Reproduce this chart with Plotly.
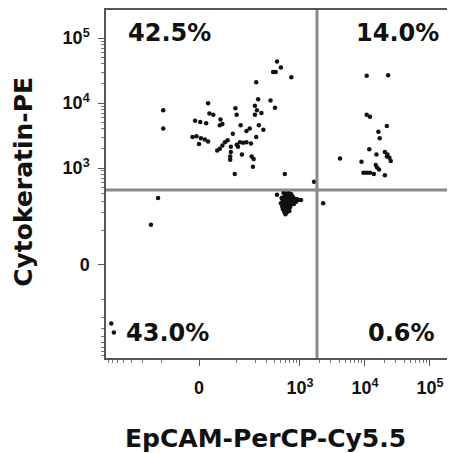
import numpy as np
import plotly.graph_objects as go

# ---- data (biexponential display units; 1 unit = 1 decade in the log region) ----
q1_x = [1.20, 1.26, 1.14, 1.18, 1.42, 0.88, -0.55, -0.55, 0.14, 0.91, 1.10, 1.17, 0.86, 0.89, 0.96,
        0.56, 0.58, 0.16, 0.22, 0.33, 0.32, 0.36, -0.06, 0.02, 0.11, -0.10, -0.04, 0.03, 0.09, 0.14,
        0.00, 0.64, 0.86, 0.92, 0.99, 0.73, 0.78, 0.52, 0.88, 0.63, 0.68, 0.73, 0.80, 0.58, 0.60,
        0.44, 0.40, 0.36, 0.32, 0.28, 0.49, 0.49, 0.48, 0.48, 0.66, 0.81, 0.84, 0.83, 0.55, 1.32, 1.77]
q1_y = [3.13, 3.04, 2.97, 2.97, 2.89, 2.81, 2.38, 2.10, 2.49, 2.55, 2.53, 2.42, 2.45, 2.38, 2.34,
        2.41, 2.31, 2.33, 2.31, 2.24, 2.15, 2.17, 2.22, 2.20, 2.18, 1.97, 1.98, 1.95, 1.93, 1.90,
        1.86, 2.15, 2.31, 2.15, 2.08, 2.06, 2.10, 2.02, 1.97, 1.89, 1.88, 1.89, 1.87, 1.85, 1.82,
        1.92, 1.89, 1.84, 1.79, 1.76, 1.82, 1.74, 1.67, 1.62, 1.70, 1.67, 1.63, 1.51, 1.40, 1.40, 1.28]

q2_x = [2.58, 2.91, 2.58, 2.63, 2.76, 2.89, 2.78, 2.62, 2.73, 2.86, 2.90, 2.93, 2.95, 2.89, 2.17,
        2.50, 2.72, 2.74, 2.77, 2.53, 2.58, 2.63, 2.69, 2.86]
q2_y = [2.91, 2.92, 2.31, 2.28, 2.05, 2.14, 1.95, 1.78, 1.70, 1.74, 1.70, 1.65, 1.60, 1.67, 1.64,
        1.59, 1.54, 1.50, 1.47, 1.42, 1.42, 1.42, 1.40, 1.38]

q3_x = [-0.63, -0.74, -1.35, -1.31,
        1.20, 1.30, 1.34, 1.38, 1.42, 1.32, 1.36, 1.40, 1.44,
        1.27, 1.31, 1.35, 1.39, 1.43, 1.47, 1.51, 1.29, 1.33, 1.37, 1.41, 1.45, 1.49,
        1.53, 1.57, 1.26, 1.30, 1.34, 1.38, 1.42, 1.46,
        1.28, 1.32, 1.36, 1.40, 1.29, 1.33, 1.37, 1.31, 1.35, 1.39, 1.33,
        1.30, 1.34, 1.38, 1.42, 1.32, 1.36, 1.40, 1.34, 1.38]
q3_y = [1.03, 0.62, -0.90, -1.04,
        1.08, 1.11, 1.10, 1.11, 1.09, 1.06, 1.07, 1.06, 1.05,
        1.03, 1.02, 1.03, 1.02, 1.01, 1.02, 1.01, 0.99, 0.98, 0.99, 0.97, 0.98, 0.97,
        1.00, 1.00, 0.95, 0.94, 0.95, 0.94, 0.93, 0.94,
        0.90, 0.89, 0.90, 0.89, 0.86, 0.85, 0.86, 0.82, 0.81, 0.83, 0.78,
        1.04, 1.05, 1.04, 1.03, 0.96, 0.97, 0.96, 0.92, 0.91]

q4_x = [1.91]
q4_y = [0.95]

gate_x = 1.815
gate_y = 1.154

quad_labels = ["42.5%", "14.0%", "43.0%", "0.6%"]

tick_values = [0, 1e3, 1e4, 1e5]
tick_text = ["<b>0</b>", "<b>10<sup>3</sup></b>", "<b>10<sup>4</sup></b>", "<b>10<sup>5</sup></b>"]

CX, CY = 56.0, 64.5   # linear-region widths of the arcsinh display transform


def T(v, c):
    return np.arcsinh(np.asarray(v, dtype=float) / c) / np.log(10)


minor_raw = [s * k for s in (-1, 1) for k in range(100, 1000, 100)] + \
            [m * 10 ** e for e in (3, 4) for m in range(2, 10)]

fig = go.Figure()
fig.add_trace(go.Scatter(
    x=q1_x + q2_x + q3_x + q4_x,
    y=q1_y + q2_y + q3_y + q4_y,
    mode="markers",
    marker=dict(color="#111111", size=4.5, line=dict(width=0)),
    showlegend=False, hoverinfo="skip"))

gate_col = "#8a8a8a"
fig.add_shape(type="line", xref="x", yref="paper", x0=gate_x, x1=gate_x, y0=0, y1=1,
              line=dict(color=gate_col, width=3))
fig.add_shape(type="line", xref="paper", yref="y", x0=0, x1=1, y0=gate_y, y1=gate_y,
              line=dict(color=gate_col, width=3))

lab_font = dict(family="DejaVu Sans", size=24, color="#111111", weight="bold")
pos = [(-0.46, 3.57), (3.05, 3.57), (-0.48, -1.05), (3.12, -1.05)]
for t, (ax_, ay_) in zip(quad_labels, pos):
    fig.add_annotation(x=ax_, y=ay_, xref="x", yref="y", text=t, showarrow=False,
                       font=lab_font, xanchor="center", yanchor="middle")

title_font = dict(family="DejaVu Sans", size=25, color="#111111", weight="bold")
fig.add_annotation(x=0.465, y=-0.23, xref="paper", yref="paper", text="EpCAM-PerCP-Cy5.5",
                   showarrow=False, font=title_font, xanchor="center", yanchor="middle")
fig.add_annotation(x=-0.24, y=0.506, xref="paper", yref="paper", text="Cytokeratin-PE",
                   showarrow=False, font=title_font, textangle=-90,
                   xanchor="center", yanchor="middle")

tick_font = dict(family="Liberation Sans", size=18, color="#111111")
axis_common = dict(showgrid=False, zeroline=False, showline=True, linecolor="#555555",
                   linewidth=1.5, mirror=True, ticks="outside", ticklen=6, tickwidth=1,
                   tickcolor="#555555", tickmode="array", tickfont=tick_font,
                   automargin=False)

fig.update_xaxes(range=[-1.431, 3.831], tickvals=list(T(tick_values, CX)), ticktext=tick_text,
                 ticklabelstandoff=7,
                 minor=dict(tickmode="array", tickvals=list(T(minor_raw, CX)), ticklen=3,
                            tickcolor="#777777", ticks="outside"),
                 **axis_common)
fig.update_yaxes(range=[-1.431, 3.923], tickvals=list(T(tick_values, CY)), ticktext=tick_text,
                 ticklabelstandoff=5,
                 minor=dict(tickmode="array", tickvals=list(T(minor_raw, CY)), ticklen=3,
                            tickcolor="#777777", ticks="outside"),
                 **axis_common)

# page body adds an 8 px offset, so the figure is 8 px smaller and the left/top margins shrink
fig.update_layout(width=447, height=445, autosize=False,
                  margin=dict(l=98, r=7, t=2, b=95, autoexpand=False),
                  plot_bgcolor="white", paper_bgcolor="white")

fig.write_html("out.html")
